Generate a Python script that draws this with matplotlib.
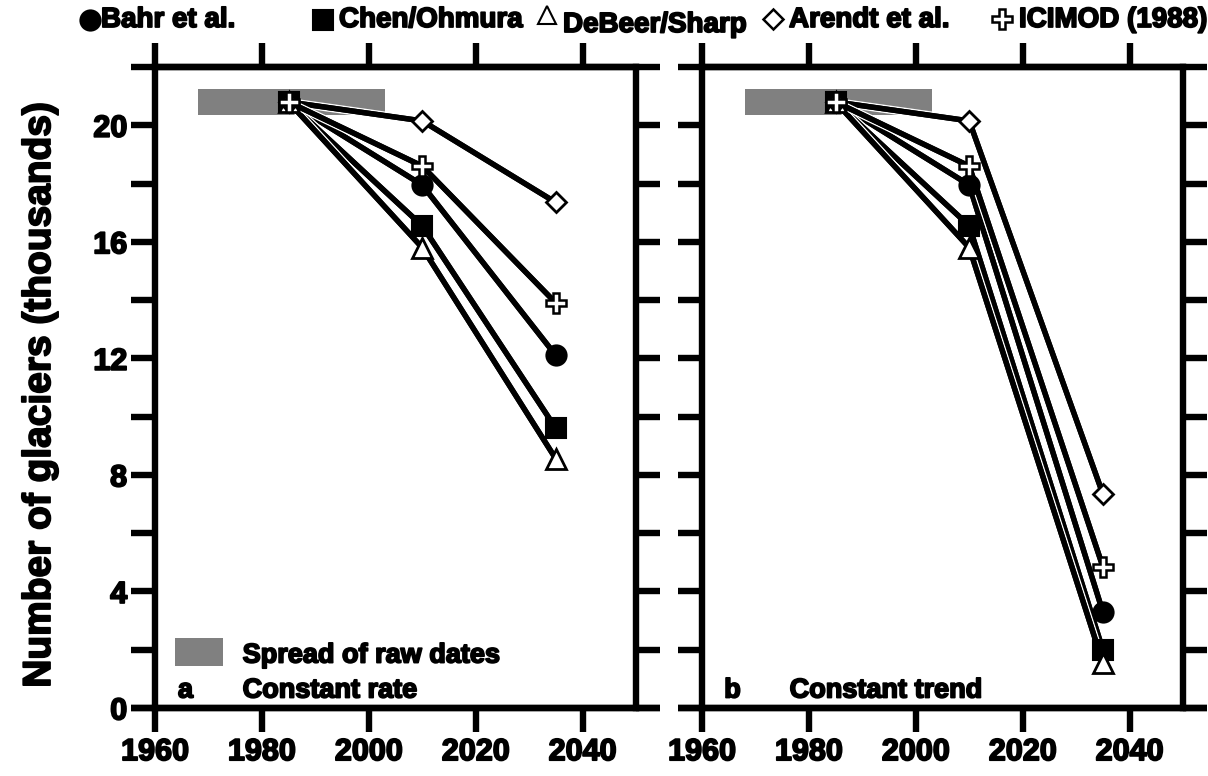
import matplotlib
matplotlib.use("Agg")
import matplotlib.pyplot as plt
from matplotlib.lines import Line2D
from matplotlib.patches import Rectangle
import matplotlib.patheffects as pe

# ---------------- data ----------------
years = [1985, 2010, 2035]
series_names = ["Bahr et al.", "Chen/Ohmura", "DeBeer/Sharp", "Arendt et al.", "ICIMOD (1988)"]

# panel a: constant rate (thousands of glaciers)
bahr_a = [20.8, 17.95, 12.1]
chen_a = [20.8, 16.55, 9.6]
debeer_a = [20.8, 15.8, 8.55]
arendt_a = [20.8, 20.15, 17.35]
icimod_a = [20.8, 18.6, 13.9]

# panel b: constant trend
bahr_b = [20.8, 17.95, 3.3]
chen_b = [20.8, 16.55, 2.0]
debeer_b = [20.8, 15.8, 1.55]
arendt_b = [20.8, 20.15, 7.35]
icimod_b = [20.8, 18.6, 4.85]

# spread of raw dates (grey bar)
spread_years = [1968, 2003]
spread_values = [20.35, 21.25]

xticks = [1960, 1980, 2000, 2020, 2040]
yticks_major = [0, 4, 8, 12, 16, 20]
yticks_minor = [2, 6, 10, 14, 18]

# ---------------- style ----------------
plt.rcParams['font.family'] = ['Liberation Sans', 'DejaVu Sans']
plt.rcParams['font.weight'] = 'bold'

W, H = 1208, 776
fig = plt.figure(figsize=(W / 100, H / 100), dpi=100)

def fx(px):
    return px / W

def fy(py):
    return 1 - py / H

left_a, left_b, right_w = 155, 702, 481
top, bottom = 67, 708
ax_a = fig.add_axes([fx(left_a), fy(bottom), right_w / W, (bottom - top) / H])
ax_b = fig.add_axes([fx(left_b), fy(bottom), right_w / W, (bottom - top) / H])

spine_lw = 4.6
line_lw = 3.9
tick_len = 17

markers = {
    "Bahr et al.": dict(marker='o', ms=14.5, mfc='black', mec='black', mew=1.5),
    "Chen/Ohmura": dict(marker='s', ms=14.5, mfc='black', mec='black', mew=1.5),
    "DeBeer/Sharp": dict(marker='^', ms=14, mfc='white', mec='black', mew=2.0),
    "Arendt et al.": dict(marker='D', ms=10.5, mfc='white', mec='black', mew=2.0),
    "ICIMOD (1988)": dict(marker='P', ms=15, mfc='white', mec='black', mew=1.8),
}

text_effect = [pe.withStroke(linewidth=1.3, foreground='black')]

def style_axes(ax, panel_data, letter, label, show_ylabels):
    ax.set_xlim(1960, 2050)
    ax.set_ylim(0, 22)
    # grey spread bar
    ax.add_patch(Rectangle((spread_years[0], spread_values[0]),
                           spread_years[1] - spread_years[0],
                           spread_values[1] - spread_values[0],
                           facecolor='#808080', edgecolor='none', zorder=1))
    # lines with white halo
    for name, vals in zip(series_names, panel_data):
        ax.plot(years, vals, color='black', lw=line_lw, zorder=2,
                solid_capstyle='round', solid_joinstyle='miter',
                path_effects=[pe.withStroke(linewidth=line_lw + 2.0, foreground='white'), pe.Normal()])
    for name, vals in zip(series_names, panel_data):
        ax.plot(years, vals, linestyle='none', zorder=3, **markers[name])

    for s in ax.spines.values():
        s.set_linewidth(spine_lw)
    ax.set_xticks(xticks)
    ax.set_yticks(yticks_major)
    ax.set_yticks(yticks_minor, minor=True)
    ax.tick_params(axis='both', which='both', direction='out', length=tick_len,
                   width=spine_lw, top=True, right=True, bottom=True, left=True)
    ax.tick_params(axis='x', labelsize=22, pad=4, labeltop=False)
    ax.tick_params(axis='y', labelsize=22, pad=3, labelright=False)
    if not show_ylabels:
        ax.set_yticklabels([])
    for t in ax.get_xticklabels() + ax.get_yticklabels():
        t.set_fontweight('bold')
        t.set_path_effects(text_effect)
    # extend horizontal frame lines beyond the vertical spines
    e = 24 / right_w
    for yy in (0, 1):
        ax.plot([-e, 1 + e], [yy, yy], transform=ax.transAxes, color='black',
                lw=spine_lw, clip_on=False, solid_capstyle='butt', zorder=5)
    # panel labels
    ax.text(1965.7, 0.6, letter, fontsize=19.5, fontweight='bold', va='center', ha='center',
            path_effects=text_effect)
    ax.text(1976.4, 0.6, label, fontsize=19.5, fontweight='bold', va='center', ha='left',
            path_effects=text_effect)

style_axes(ax_a, [bahr_a, chen_a, debeer_a, arendt_a, icimod_a], 'a', 'Constant rate', True)
style_axes(ax_b, [bahr_b, chen_b, debeer_b, arendt_b, icimod_b], 'b', 'Constant trend', False)

# "Spread of raw dates" key in panel a
ax_a.add_patch(Rectangle((1963.8, 1.45), 9.0, 0.95, facecolor='#808080', edgecolor='none', zorder=1))
ax_a.text(1976.4, 1.8, 'Spread of raw dates', fontsize=19.5, fontweight='bold', va='center',
          ha='left', path_effects=text_effect)

# y label
fig.text(fx(40), fy(395), 'Number of glaciers (thousands)', rotation=90, fontsize=28,
         fontweight='bold', va='center', ha='center', path_effects=text_effect)

# top legend
legend_items = [
    ("Bahr et al.", 90, 20, 101, 20),
    ("Chen/Ohmura", 323, 20, 339, 20),
    ("DeBeer/Sharp", 547, 15, 563, 25),
    ("Arendt et al.", 773, 19, 789, 20),
    ("ICIMOD (1988)", 1002, 19, 1019, 20),
]
for name, mx, my, tx, ty in legend_items:
    m = dict(markers[name])
    if name == "DeBeer/Sharp":
        m.update(ms=13, mew=1.5)
    if name == "Arendt et al.":
        m.update(ms=10, mew=1.8)
    fig.add_artist(Line2D([fx(mx)], [fy(my)], transform=fig.transFigure, linestyle='none', **m))
    fig.text(fx(tx), fy(ty), name, fontsize=20, fontweight='bold', va='center', ha='left',
             path_effects=text_effect)

fig.savefig('out.png', dpi=100)
